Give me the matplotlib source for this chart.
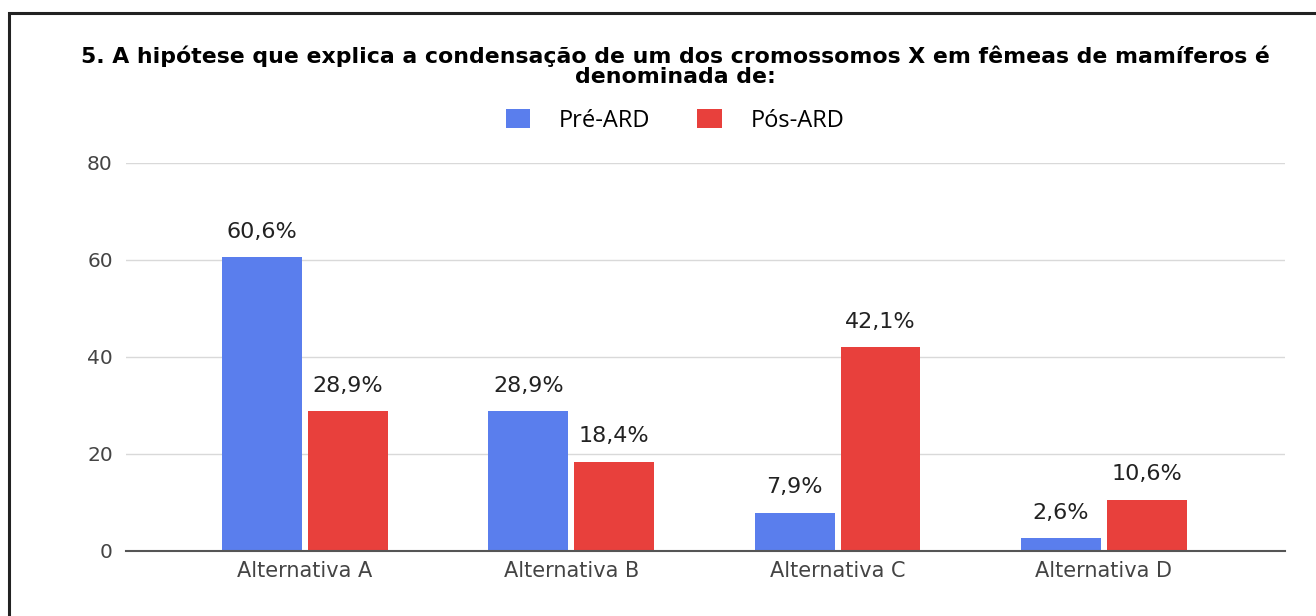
import numpy as np
import matplotlib.pyplot as plt
from matplotlib.patches import Rectangle

# dados
categorias = ['Alternativa A', 'Alternativa B', 'Alternativa C', 'Alternativa D']
pre_ard = [60.6, 28.9, 7.9, 2.6]
pos_ard = [28.9, 18.4, 42.1, 10.6]
rotulos_pre = ['60,6%', '28,9%', '7,9%', '2,6%']
rotulos_pos = ['28,9%', '18,4%', '42,1%', '10,6%']
series = ['Pré-ARD', 'Pós-ARD']

azul = '#5a7eed'
vermelho = '#e8403c'

fig = plt.figure(figsize=(13.16, 6.16), dpi=100)
ax = fig.add_axes([126 / 1316, 1 - 551 / 616, 1159 / 1316, 388 / 616])

# moldura preta (só esquerda e topo aparecem)
fig.patches.append(Rectangle((9 / 1316, -0.1), 1.2, 1 - 13 / 616 + 0.1,
                             transform=fig.transFigure, fill=False,
                             edgecolor='#222222', linewidth=2.2))

x = np.arange(len(categorias))
w = 0.3
b1 = ax.bar(x - w / 2 - 0.011, pre_ard, w, color=azul, zorder=3)
b2 = ax.bar(x + w / 2 + 0.011, pos_ard, w, color=vermelho, zorder=3)

for barras, rot in [(b1, rotulos_pre), (b2, rotulos_pos)]:
    for b, r in zip(barras, rot):
        ax.annotate(r, (b.get_x() + b.get_width() / 2, b.get_height()),
                    xytext=(0, 11), textcoords='offset points',
                    ha='center', va='bottom', fontsize=16,
                    family='DejaVu Sans', color='#222222')

ax.set_xlim(-0.672, 3.68)
ax.set_ylim(0, 80)
ax.set_yticks([0, 20, 40, 60, 80])
ax.set_xticks(x)
ax.set_xticklabels(categorias, family='DejaVu Sans', fontsize=15, color='#444444')
for t in ax.get_yticklabels():
    t.set_family('DejaVu Sans')
    t.set_fontsize(14.5)
    t.set_color('#444444')
ax.tick_params(axis='both', length=0)
ax.tick_params(axis='y', pad=9.5)
ax.tick_params(axis='x', pad=7)
ax.grid(axis='y', color='#d9d9d9', linewidth=1, zorder=0)
for s in ['top', 'right', 'left']:
    ax.spines[s].set_visible(False)
ax.spines['bottom'].set_color('#555555')
ax.spines['bottom'].set_linewidth(1.5)
ax.spines['bottom'].set_zorder(4)

fig.text(675 / 1316, 1 - 66 / 616,
         '5. A hipótese que explica a condensação de um dos cromossomos X em fêmeas de mamíferos é\ndenominada de:',
         ha='center', va='center', fontsize=15.8, fontweight='bold',
         family='DejaVu Sans', linespacing=1.0)

leg = fig.legend([b1, b2], series, loc='center', bbox_to_anchor=(675 / 1316, 1 - 121 / 616),
                 ncol=2, frameon=False, handlelength=1.05, handleheight=0.85,
                 columnspacing=2.0, handletextpad=1.2,
                 prop={'family': 'Open Sans', 'size': 17})

fig.savefig('out.png', dpi=100, facecolor='white')
